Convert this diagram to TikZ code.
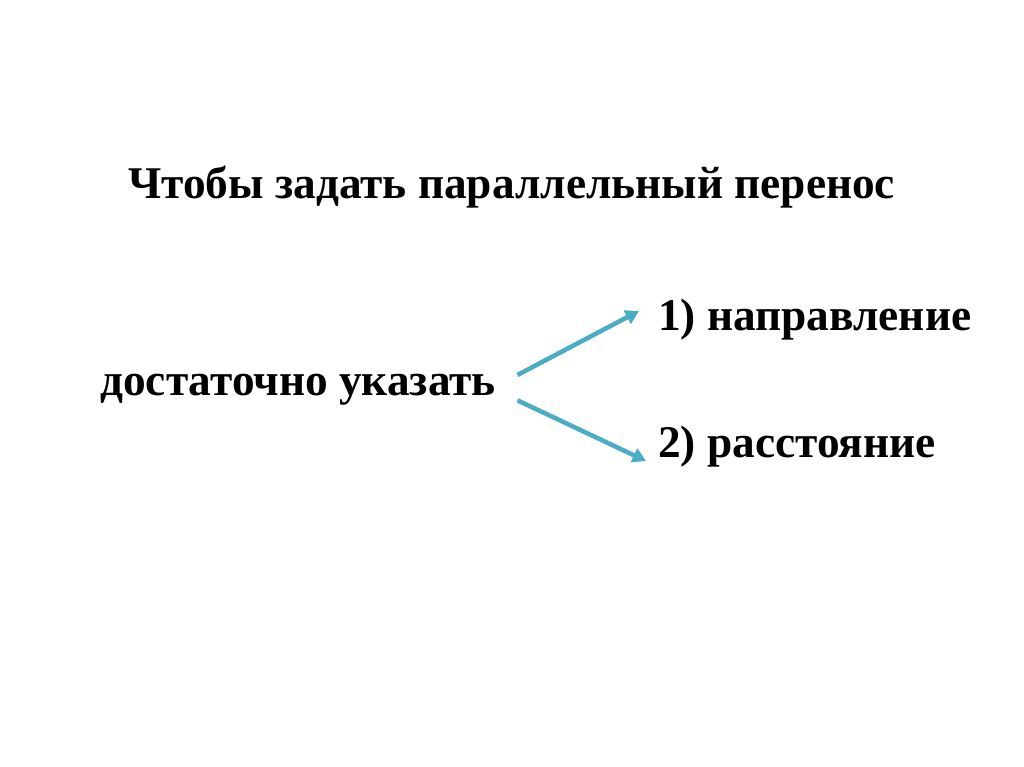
\documentclass[tikz,border=0pt]{standalone}
\usepackage{fontspec}
\setmainfont{Liberation Serif}
\usetikzlibrary{arrows.meta}
\definecolor{ptTeal}{HTML}{4BACC6}
\tikzset{
  pt title/.style={font=\bfseries\fontsize{34}{40}\selectfont, anchor=base west, inner sep=0pt},
  pt text/.style={font=\bfseries\fontsize{34}{40}\selectfont, anchor=base west, inner sep=0pt},
  pt arrow/.style={draw=ptTeal, line width=3.4pt, -{Triangle[length=10pt,width=11pt]}},
}

\begin{document}
\begin{tikzpicture}[x=0.75pt,y=-0.75pt]
  \useasboundingbox (0,0) rectangle (1024,767);
  % heading
  \node[pt title] (title) at (128,198) {Чтобы задать параллельный перенос};
  % left phrase and the two choices
  \node[pt text] (task) at (100,395) {достаточно указать};
  \node[pt text] (dir) at (658,330) {1) направление};
  \node[pt text] (dist) at (658,457) {2) расстояние};
  \coordinate (dir tip) at (639,311);
  \coordinate (dist tip) at (646,461);
  \draw[pt arrow] ([xshift=16pt,yshift=15pt]task.base east) -- (dir tip);
  \draw[pt arrow] ([xshift=16pt,yshift=-4pt]task.base east) -- (dist tip);
\end{tikzpicture}
\end{document}
